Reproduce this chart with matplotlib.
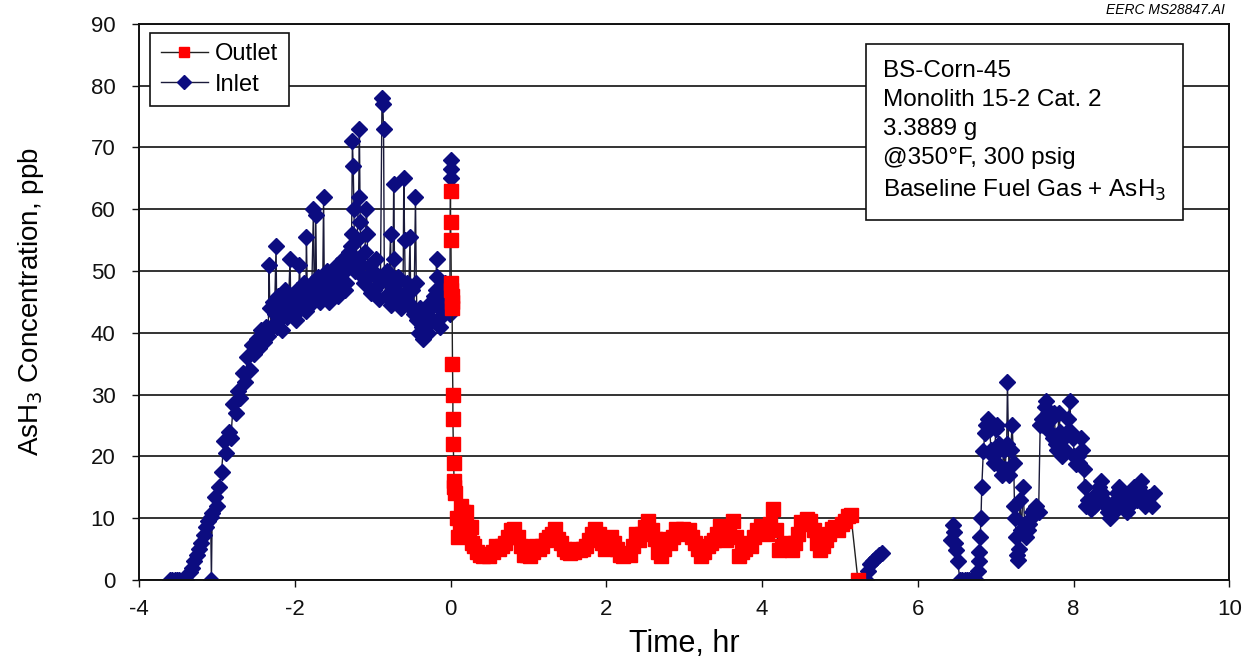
import numpy as np
import matplotlib
matplotlib.use("Agg")
from matplotlib import pyplot as plt

plt.rcParams['font.family'] = ['Liberation Sans', 'DejaVu Sans']
plt.rcParams['axes.unicode_minus'] = False

# Inlet, before bypass switch (hr, ppb)
inlet_t1 = [-3.60, -3.57, -3.54, -3.51, -3.48, -3.45, -3.42, -3.39, -3.35, -3.32,
            -3.29, -3.26, -3.23, -3.20, -3.17, -3.14, -3.11, -3.08, -3.07, -3.06,
            -3.03, -3.00, -2.97, -2.94, -2.91, -2.88, -2.85, -2.82, -2.79, -2.76,
            -2.73, -2.70, -2.67, -2.64, -2.61, -2.58, -2.55, -2.52, -2.49, -2.46,
            -2.43, -2.40, -2.37,
            -2.34, -2.33, -2.32, -2.30, -2.28, -2.26, -2.24, -2.23, -2.22, -2.20,
            -2.18, -2.16, -2.14, -2.12, -2.10, -2.08, -2.06, -2.05, -2.03, -2.01,
            -1.99, -1.97, -1.95, -1.94, -1.92, -1.90, -1.88, -1.86, -1.85, -1.84,
            -1.82, -1.80, -1.78, -1.76, -1.75, -1.74, -1.73, -1.72, -1.70, -1.68,
            -1.66, -1.64, -1.63, -1.62, -1.60, -1.58, -1.56, -1.54, -1.52, -1.50,
            -1.48, -1.46, -1.44, -1.42, -1.40, -1.38, -1.36, -1.34, -1.32, -1.30,
            -1.28, -1.27, -1.26, -1.25, -1.24, -1.23, -1.21, -1.20, -1.18, -1.17,
            -1.16, -1.15, -1.13, -1.11, -1.10, -1.08, -1.07, -1.06, -1.04, -1.02,
            -1.00, -0.98, -0.96, -0.94, -0.92, -0.90, -0.88, -0.87, -0.86, -0.85,
            -0.83, -0.81, -0.79, -0.77, -0.76, -0.74, -0.73, -0.72, -0.71, -0.69,
            -0.67, -0.65, -0.63, -0.61, -0.60, -0.59, -0.58, -0.56, -0.54, -0.52,
            -0.51, -0.49, -0.47, -0.45, -0.44, -0.43, -0.41, -0.39, -0.37, -0.35,
            -0.33, -0.31, -0.29, -0.27, -0.25, -0.23, -0.21, -0.19, -0.18, -0.17,
            -0.15, -0.13, -0.11, -0.09, -0.07, -0.05, -0.03, -0.01, 0.00, 0.005,
            0.01]
inlet_c1 = [0, 0, 0, 0, 0, 0, 0, 0, 1.2, 2.0,
            3.0, 4.0, 5.0, 6.0, 7.2, 8.5, 9.5, 10.2, 0, 10.8,
            13.5, 12, 15, 17.5, 22.5, 20.5, 24, 23, 28.5, 27,
            30.5, 29.5, 33.5, 32, 36, 34, 38, 36.5, 39, 37.5,
            40.5, 38.5, 41,
            39.5, 51, 44, 41, 45, 43, 54, 41, 46, 42,
            45.5, 40.5, 44, 47, 42.5, 45, 52, 43, 46, 44,
            42, 47, 45, 51, 44, 46, 48, 43.5, 55.5, 47,
            45, 44.5, 48, 60, 46, 45.5, 59, 47, 49, 45,
            47.5, 49, 62, 46.5, 48.5, 50, 45, 47, 50, 47.5,
            49, 51, 46, 48, 49.5, 52, 47, 48, 50.5, 53,
            54, 56, 71, 67, 60, 50, 52, 55, 62, 73,
            58, 51, 49, 48, 53, 60, 56, 49, 51, 46.5,
            50, 47, 52, 49, 45.5, 48, 78, 77, 73, 49,
            46, 50, 48, 56, 44.5, 48, 64, 52, 47, 45,
            49, 48.5, 44, 46, 65, 55, 46.5, 48, 45, 55.5,
            44, 47, 43, 62, 48, 42, 40, 44, 41, 39,
            43.5, 41, 40, 44, 45, 42, 46, 47, 52, 49,
            44, 41, 46, 43, 48, 44, 46, 43, 68, 66.5,
            65]

# Inlet, short check after run
inlet_t2 = [5.33, 5.36, 5.39, 5.42, 5.46, 5.50, 5.54]
inlet_c2 = [0, 1.5, 2.5, 3.0, 3.5, 4.0, 4.4]

# Inlet, later
inlet_t3 = [6.43, 6.45, 6.46, 6.48, 6.49, 6.51, 6.54, 6.57, 6.60, 6.63,
            6.66, 6.69, 6.72, 6.75, 6.77, 6.78, 6.79, 6.80, 6.81, 6.82,
            6.84, 6.86, 6.88, 6.90, 6.92, 6.94, 6.96, 6.98, 7.00, 7.02,
            7.04, 7.06, 7.08, 7.10, 7.12, 7.14, 7.15, 7.17, 7.19, 7.21,
            7.23, 7.24, 7.25, 7.26, 7.27, 7.29, 7.30, 7.31, 7.33, 7.35,
            7.37, 7.39, 7.41, 7.43, 7.45, 7.47, 7.49, 7.52, 7.55, 7.57,
            7.59, 7.61, 7.63, 7.65, 7.67, 7.69, 7.71, 7.73, 7.75, 7.77,
            7.79, 7.81, 7.83, 7.85, 7.87, 7.89, 7.91, 7.93, 7.95, 7.97,
            7.99, 8.01, 8.03, 8.05, 8.07, 8.09, 8.11, 8.13, 8.14, 8.16,
            8.18, 8.20, 8.22, 8.24, 8.26, 8.28, 8.30, 8.33, 8.35, 8.37,
            8.39, 8.41, 8.44, 8.46, 8.48, 8.50, 8.52, 8.54, 8.56, 8.58,
            8.60, 8.62, 8.64, 8.66, 8.69, 8.71, 8.73, 8.75, 8.77, 8.79,
            8.81, 8.84, 8.86, 8.88, 8.90, 8.92, 8.95, 8.97, 9.00, 9.03]
inlet_c3 = [6.5, 8.9, 7.8, 6.0, 4.9, 3.0, 0, 0, 0, 0,
            0, 0, 0, 0, 1.5, 3, 4.5, 7, 10, 15,
            20.8, 23.8, 25, 26, 24.5, 21, 20, 19, 24.5, 25,
            22, 18.5, 17, 21, 18, 22, 32, 17, 21, 25,
            19, 12, 10, 7, 4, 3.3, 5, 13, 8, 15,
            9, 7, 8, 9, 10, 11, 11.5, 12, 11, 25,
            26, 25, 28, 29, 27, 24, 26, 23, 27, 22,
            21, 27, 24, 20, 23, 21, 24, 26, 29, 24,
            23, 20, 18.8, 20, 19, 23, 21, 18, 15, 12,
            13, 12, 11.5, 13, 12, 13, 14, 15, 16, 14,
            13, 12, 11, 10, 11, 12, 11, 13, 14, 15,
            14.5, 12, 13, 12, 11, 12, 13, 14, 15, 14,
            13, 15, 16, 14, 13, 12, 12.5, 13.5, 12, 14]

# Outlet
outlet_t = [0.00, 0.00, 0.005, 0.01, 0.01, 0.015, 0.015, 0.02, 0.025, 0.03,
            0.03, 0.035, 0.04, 0.045, 0.05, 0.06, 0.08, 0.10, 0.12, 0.14,
            0.16, 0.18, 0.20, 0.22, 0.24, 0.26, 0.28, 0.30, 0.34, 0.38,
            0.42, 0.46, 0.50, 0.54, 0.58, 0.62, 0.66, 0.70, 0.74, 0.78,
            0.82, 0.86, 0.90, 0.94, 0.98, 1.02, 1.06, 1.10, 1.14, 1.18,
            1.22, 1.26, 1.30, 1.34, 1.38, 1.42, 1.46, 1.50, 1.54, 1.58,
            1.62, 1.66, 1.70, 1.74, 1.78, 1.82, 1.86, 1.90, 1.94, 1.98,
            2.02, 2.06, 2.10, 2.14, 2.18, 2.22, 2.26, 2.30, 2.34, 2.38,
            2.42, 2.46, 2.50, 2.54, 2.58, 2.62, 2.66, 2.70, 2.74, 2.78,
            2.82, 2.86, 2.90, 2.94, 2.98, 3.02, 3.06, 3.10, 3.14, 3.18,
            3.22, 3.26, 3.30, 3.34, 3.38, 3.42, 3.46, 3.50, 3.54, 3.58,
            3.62, 3.66, 3.70, 3.74, 3.78, 3.82, 3.86, 3.90, 3.94, 3.98,
            4.02, 4.06, 4.10, 4.14, 4.18, 4.22, 4.26, 4.30, 4.34, 4.38,
            4.42, 4.46, 4.50, 4.54, 4.58, 4.62, 4.66, 4.70, 4.74, 4.78,
            4.82, 4.86, 4.90, 4.94, 4.98, 5.02, 5.06, 5.10, 5.14, 5.23]
outlet_c = [63, 58, 55, 48, 47, 46, 45, 44, 35, 30,
            26, 22, 19, 16, 15, 14, 10, 7, 8, 12,
            11, 10.5, 11, 8.5, 8, 8.5, 6, 5.5, 4.5, 4,
            3.8, 4.2, 3.8, 4.5, 5.5, 5, 5.5, 6, 7, 8,
            8.2, 7, 5.5, 4, 4, 3.8, 4.5, 5.5, 5, 5.5,
            6.5, 7, 7.5, 8.2, 6.6, 6, 5, 4.5, 4.4, 4.5,
            5, 4.8, 5, 5.5, 6.5, 7.5, 8.2, 7.5, 6, 5,
            6, 7, 6, 5, 4, 3.8, 4.4, 4, 5.5, 7.5,
            6.5, 7.5, 8.5, 9.6, 8, 6.6, 4.5, 3.8, 5, 6.6,
            6, 7, 8.2, 8, 8.2, 7.5, 8, 7, 6, 5,
            3.8, 4.5, 5.5, 6, 6.5, 7.5, 8.8, 8, 6.5, 8.5,
            9.6, 7, 3.8, 4.5, 5, 6, 5.5, 7, 8, 8.8,
            8.5, 7.5, 9, 11.5, 8, 4.9, 5.5, 6, 5, 4.8,
            6, 7.5, 9.3, 9, 9.8, 9.5, 8, 6, 4.9, 5.5,
            6.5, 7.5, 8.2, 8.5, 8, 9, 9.5, 10.4, 10.5, 0]

inlet_t = inlet_t1 + [np.nan] + inlet_t2 + [np.nan] + inlet_t3
inlet_c = inlet_c1 + [np.nan] + inlet_c2 + [np.nan] + inlet_c3

fig = plt.figure(figsize=(12.52, 6.62), dpi=100)
ax = fig.add_axes([0.111, 0.124, 0.871, 0.840])

navy = '#0c0c80'
l_in, = ax.plot(inlet_t, inlet_c, color='#1a1a3a', lw=1.0, marker='D', ms=8.5,
                mfc=navy, mec=navy, label='Inlet')
l_out, = ax.plot(outlet_t, outlet_c, color='#202020', lw=1.0, marker='s', ms=10,
                 mfc='#ff0000', mec='#ff0000', label='Outlet')

ax.set_xlim(-4, 10)
ax.set_ylim(0, 90)
ax.set_xticks(range(-4, 11, 2))
ax.set_yticks(range(0, 91, 10))
ax.yaxis.grid(True, color='#111111', lw=1.2)
ax.set_axisbelow(True)
ax.tick_params(direction='out', length=5, width=1, labelsize=16, colors='#111111')
ax.tick_params(axis='x', pad=9)
ax.tick_params(axis='y', pad=12)
for s in ax.spines.values():
    s.set_linewidth(1.4)
    s.set_color('#111111')

ax.set_xlabel('Time, hr', fontsize=22, labelpad=6)
ax.set_ylabel('AsH$_3$ Concentration, ppb', fontsize=20, labelpad=32)

leg = ax.legend(handles=[l_out, l_in], loc='upper left', bbox_to_anchor=(0.01, 0.984),
                borderaxespad=0, fontsize=17, fancybox=False, edgecolor='#111111',
                framealpha=1, handlelength=2.0, handletextpad=0.3, borderpad=0.45,
                labelspacing=0.35)
leg.get_frame().set_linewidth(1.2)
for h in leg.legend_handles:
    h.set_markersize(7)

info = ('BS-Corn-45\nMonolith 15-2 Cat. 2\n3.3889 g\n@350\u00b0F, 300 psig\n'
        'Baseline Fuel Gas + AsH$_3$')
ax.text(0.682, 0.935, info, transform=ax.transAxes, fontsize=17.5, va='top', ha='left',
        linespacing=1.42, zorder=5,
        bbox=dict(boxstyle='square,pad=0.7', fc='white', ec='#111111', lw=1.2))

fig.text(0.978, 0.975, 'EERC MS28847.AI', fontsize=10, style='italic', ha='right',
         va='bottom')

fig.savefig('out.png', dpi=100)
